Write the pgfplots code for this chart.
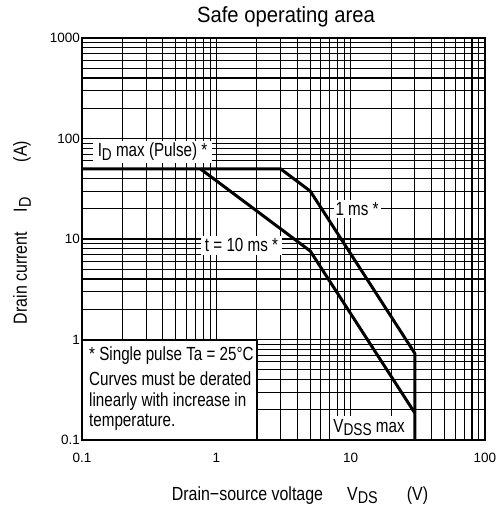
\documentclass[border=0pt]{standalone}
\usepackage{fontspec}
\setmainfont{Liberation Sans}
\newfontfamily\labelfamily[FakeStretch=0.84]{Liberation Sans}
\newfontfamily\notefamily[FakeStretch=0.8]{Liberation Sans}
\newfontfamily\titlefamily[FakeStretch=0.92]{Liberation Sans}
\usepackage{pgfplots}
\pgfplotsset{compat=1.18}
% lowered, slightly smaller subscript as used in the device datasheet
\newcommand\sub[1]{\raisebox{-0.2em}{\scalebox{0.9}{#1}}}
\tikzset{annot/.style={fill=white, anchor=base, inner ysep=2.5pt, font=\notefamily\fontsize{19}{22}\selectfont}}

\begin{document}
\begin{tikzpicture}
\path[use as bounding box] (-82pt,-72pt) rectangle (416pt,440pt);
\begin{axis}[
  at={(0pt,0pt)}, anchor=south west,
  scale only axis, width=403pt, height=402pt,
  xmode=log, ymode=log,
  xmin=0.1, xmax=100, ymin=0.1, ymax=1000,
  xtick={0.1,1,10,100}, xticklabels={0.1,1,10,100},
  ytick={0.1,1,10,100,1000}, yticklabels={0.1,1,10,100,1000},
  minor xtick={0.2,0.3,0.4,0.5,0.6,0.7,0.8,0.9,2,3,4,5,6,7,8,9,20,30,40,50,60,70,80,90},
  minor ytick={0.2,0.3,0.4,0.5,0.6,0.7,0.8,0.9,2,3,4,5,6,7,8,9,20,30,40,50,60,70,80,90,200,300,400,500,600,700,800,900},
  grid=both,
  major grid style={draw=black, line width=1.5pt},
  minor grid style={draw=black, line width=1.1pt},
  axis line style={line width=2.2pt},
  major tick length=0pt, minor tick length=0pt,
  xticklabel style={font=\fontsize{13.5}{16}\selectfont, inner sep=0pt, anchor=north, yshift=-13pt},
  yticklabel style={font=\fontsize{13.5}{16}\selectfont, inner sep=0pt, anchor=east, xshift=-2pt},
]
% 1 ms limit: pulse current ceiling, constant power, second breakdown, VDSS
\addplot[line width=3pt, line join=round] coordinates {(0.1,50) (3,50) (5,30) (30,0.73) (30,0.1)};
% 10 ms limit
\addplot[line width=3pt, line join=round] coordinates {(0.76,50) (5,7.6) (30,0.186)};

\draw[fill=white, line width=2pt] (axis cs:0.1,0.1) rectangle (axis cs:2,1);

\node[annot, inner xsep=5pt] at (axis cs:0.335,65.5) {I\sub{D} max (Pulse) *};
\node[annot, inner xsep=4pt] at (axis cs:1.54,7.43) {t = 10 ms *};
\node[annot, inner xsep=2pt] at (axis cs:11.16,17.3) {1 ms *};
\node[annot, inner xsep=2pt] at (axis cs:13.7,0.12) {V\sub{DSS} max};
\end{axis}

\begin{scope}[every node/.style={anchor=base west, inner sep=0pt, font=\notefamily\fontsize{19}{22}\selectfont}]
\node at (7pt,79.3pt) {* Single pulse Ta = 25°C};
\node at (7pt,55pt) {Curves must be derated};
\node at (7pt,34pt) {linearly with increase in};
\node at (7pt,14pt) {temperature.};
\end{scope}

\node[anchor=base, inner sep=0pt, font=\titlefamily\fontsize{22}{26}\selectfont] at (204pt,417pt) {Safe operating area};

\begin{scope}[every node/.style={anchor=base, inner sep=0pt, font=\labelfamily\fontsize{19}{22}\selectfont}]
\node at (165.5pt,-60pt) {Drain−source voltage};
\node at (280.5pt,-60pt) {V\sub{DS}};
\node at (335.5pt,-60pt) {(V)};
\node[rotate=90] at (-55pt,162pt) {Drain current};
\node[rotate=90] at (-55pt,235pt) {I\sub{D}};
\node[rotate=90] at (-55pt,288.5pt) {(A)};
\end{scope}
\end{tikzpicture}
\end{document}
